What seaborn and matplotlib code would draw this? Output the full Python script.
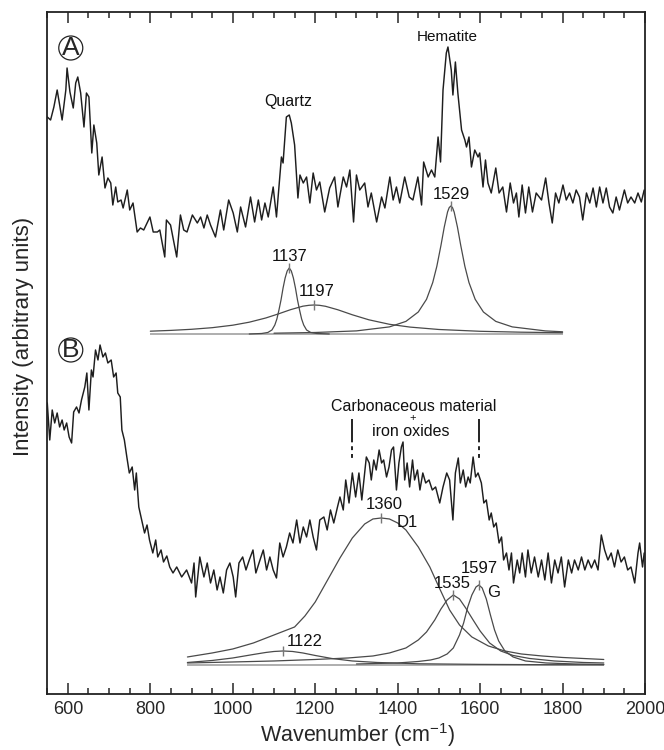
import numpy as np
import pandas as pd
import matplotlib.pyplot as plt
import seaborn as sns
from matplotlib.ticker import MultipleLocator

# spectrum A (hematite + quartz)
a_wn = [550, 558, 566, 574, 586, 595, 598, 605, 613, 619, 624, 631, 639, 645, 651, 658, 663, 670, 675, 683,
        690, 697, 704, 709, 716, 721, 729, 734, 744, 750, 758, 768, 776, 784, 799, 807, 817, 823, 835, 839,
        849, 864, 873, 881, 889, 902, 914, 922, 930, 938, 946, 958, 970, 978, 990, 1001, 1011, 1019, 1031, 1043,
        1053, 1062, 1070, 1078, 1086, 1098, 1106, 1118, 1122, 1130, 1137, 1142, 1150, 1158, 1163, 1171, 1179, 1187, 1195, 1203,
        1211, 1223, 1235, 1247, 1255, 1268, 1276, 1284, 1293, 1300, 1308, 1320, 1328, 1336, 1349, 1361, 1369, 1381, 1389, 1397,
        1405, 1417, 1428, 1437, 1449, 1458, 1463, 1474, 1482, 1490, 1498, 1504, 1510, 1518,
        1522, 1530, 1534, 1540, 1546, 1555, 1563, 1567, 1573, 1579, 1587, 1595, 1599, 1607, 1613, 1619, 1627, 1638, 1646, 1655,
        1664, 1673, 1681, 1688, 1694, 1702, 1710, 1718, 1727, 1736, 1749, 1759, 1767, 1775, 1783, 1791, 1801, 1809, 1817, 1825,
        1833, 1841, 1849, 1858, 1866, 1874, 1882, 1890, 1898, 1906, 1914, 1922, 1930, 1938, 1950, 1958, 1966, 1975, 1983, 1991, 1998]
a_int = [577, 574, 587, 604, 574, 604, 626, 602, 586, 611, 617, 601, 567, 601, 597, 541, 569, 551, 519, 537,
         506, 516, 511, 489, 507, 492, 494, 486, 504, 484, 491, 462, 466, 464, 477, 462, 462, 464, 437, 474,
         469, 437, 479, 464, 462, 479, 471, 477, 466, 479, 469, 457, 484, 464, 494, 481, 462, 487, 467, 497,
         472, 494, 474, 491, 477, 507, 477, 537, 531, 577, 579, 571, 549, 496, 519, 511, 517, 491, 521, 504,
         512, 482, 506, 517, 487, 517, 507, 524, 472, 519, 504, 511, 487, 501, 472, 497, 486, 517, 494, 507,
         491, 517, 497, 494, 517, 489, 532, 517, 524, 517, 557, 532, 604, 641,
         647, 624, 599, 632, 601, 564, 554, 547, 557, 527, 544, 537, 541, 507, 534, 511, 501, 526, 501, 507,
         482, 511, 491, 501, 477, 509, 481, 507, 482, 501, 494, 516, 491, 471, 501, 491, 509, 494, 501, 491,
         504, 497, 474, 501, 491, 506, 487, 507, 491, 506, 487, 481, 497, 484, 504, 491, 497, 491, 501, 492, 504]

# spectrum B (carbonaceous material + iron oxides)
b_wn = [550, 556, 562, 568, 574, 580, 586, 591, 597, 603, 609, 614, 621, 627, 633, 641, 646, 651, 657, 661,
        667, 673, 678, 685, 691, 697, 705, 711, 717, 721, 727, 731, 737, 743, 749, 756, 762, 766, 772, 779,
        786, 792, 798, 806, 813, 818, 826, 832, 840, 847, 855, 864, 876, 888, 900, 906, 910, 920, 930, 938,
        946, 954, 962, 969, 977, 985, 993, 1001, 1007, 1015, 1024, 1032, 1040, 1049, 1056, 1066, 1074, 1082, 1090, 1098,
        1106, 1114, 1122, 1130, 1138, 1146, 1155, 1163, 1171, 1179, 1187, 1195, 1203, 1211, 1221, 1229, 1237, 1245, 1254, 1260,
        1268, 1274, 1282, 1290, 1298, 1306, 1313, 1324, 1331, 1336, 1342, 1348, 1355, 1361, 1366, 1373, 1379, 1385, 1390, 1397,
        1403, 1409, 1413, 1417, 1423, 1429, 1436, 1441, 1448, 1454, 1461, 1468, 1476, 1484, 1492, 1502, 1510, 1519, 1526, 1534,
        1540, 1547, 1552, 1559, 1565, 1571, 1576, 1583, 1589, 1595, 1603, 1609, 1615, 1622, 1627, 1633, 1639, 1646, 1652, 1657,
        1664, 1670, 1676, 1681, 1690, 1696, 1702, 1710, 1716, 1724, 1732, 1741, 1749, 1757, 1765, 1773, 1781, 1789, 1797, 1805,
        1814, 1822, 1829, 1838, 1846, 1854, 1862, 1870, 1878, 1886, 1894, 1902, 1910, 1918, 1926, 1934, 1942, 1950, 1958, 1966,
        1975, 1983, 1987, 1994, 1998]
b_int = [291, 254, 284, 271, 281, 267, 274, 264, 271, 257, 251, 282, 287, 281, 294, 307, 321, 284, 324, 317,
         344, 334, 349, 337, 341, 331, 334, 317, 321, 301, 297, 264, 254, 237, 221, 227, 204, 221, 187, 174,
         161, 169, 154, 141, 154, 137, 144, 132, 138, 127, 121, 127, 117, 124, 111, 131, 97, 137, 117, 131,
         111, 124, 104, 117, 101, 124, 131, 117, 97, 131, 137, 124, 134, 144, 121, 134, 144, 124, 137, 124,
         116, 151, 137, 147, 161, 151, 174, 151, 167, 157, 174, 157, 144, 174, 177, 164, 184, 171, 187, 197,
         184, 214, 191, 221, 197, 221, 194, 237, 231, 214, 234, 224, 244, 231, 234, 217, 227, 244, 247, 204,
         231, 247, 252, 214, 231, 207, 234, 214, 224, 204, 221, 211, 214, 204, 207, 191, 207, 221, 214, 174,
         221, 236, 211, 224, 207, 217, 211, 237, 217, 221, 211, 191, 194, 174, 181, 167, 171, 151, 157, 134,
         141, 124, 141, 111, 134, 121, 141, 117, 144, 121, 137, 117, 134, 114, 141, 111, 134, 121, 137, 107,
         134, 121, 134, 124, 137, 124, 134, 126, 134, 124, 159, 144, 134, 141, 127, 144, 132, 137, 124, 127,
         111, 141, 151, 127, 141]

# fitted components, heights above each panel's fit baseline
a_base = 360
a_fit_range = [800, 1800]
a1137_wn = [1040, 1070, 1085, 1095, 1102, 1107, 1112, 1117, 1122, 1127, 1132, 1137, 1142, 1147, 1152, 1157, 1162, 1167, 1172, 1179, 1189, 1204, 1234]
a1137_h = [0, 0.5, 1.5, 4, 9, 15, 24, 34, 46, 56, 63, 66, 63, 56, 46, 34, 24, 15, 9, 4, 1.5, 0.5, 0]
a1197_wn = [800, 850, 900, 950, 1000, 1040, 1080, 1110, 1140, 1170, 1185, 1197, 1210, 1225, 1255, 1290, 1330, 1380, 1430, 1500, 1600, 1700, 1800]
a1197_h = [2.8, 3.6, 4.7, 6.3, 8.8, 11.8, 16.0, 20.0, 24.3, 27.8, 28.7, 29, 28.7, 27.7, 24.2, 19.2, 14.2, 9.7, 6.9, 4.5, 2.7, 1.8, 1.3]
a1529_wn = [1100, 1200, 1300, 1380, 1420, 1450, 1470, 1485, 1495, 1505, 1513, 1521, 1525, 1529, 1533, 1537, 1545, 1553, 1563, 1573, 1588, 1608, 1638, 1678, 1758, 1800]
a1529_h = [0.8, 1.5, 3.1, 7.1, 12.6, 22.0, 34.7, 51.4, 67.7, 88.6, 106.9, 122, 126.4, 128, 126.4, 122, 106.9, 88.6, 67.7, 51.4, 34.7, 22.0, 12.6, 7.1, 3.1, 2.2]

b_base = 29
b_fit_range = [890, 1900]
b1122_wn = [890, 950, 1000, 1050, 1080, 1100, 1122, 1145, 1170, 1200, 1240, 1290, 1350, 1450, 1600, 1750, 1900]
b1122_h = [2.5, 4.5, 7, 10.5, 12.5, 13.5, 14, 13.5, 12, 9.5, 6.5, 4, 2.5, 1.2, 0.6, 0.3, 0.2]
b1360_wn = [890, 950, 1000, 1050, 1100, 1150, 1175, 1200, 1230, 1260, 1290, 1320, 1340, 1360, 1380, 1400, 1420, 1450, 1478, 1500, 1526, 1550, 1580, 1620, 1660, 1700, 1750, 1800, 1850, 1900]
b1360_h = [8, 12, 16, 22, 30, 38, 49, 63, 85, 107, 127, 141, 146, 147, 146, 142, 135, 118, 98, 78, 55, 40, 28, 19, 14, 11, 9, 7.5, 6.5, 5.5]
b1535_wn = [890, 1000, 1100, 1200, 1280, 1340, 1380, 1420, 1450, 1470, 1490, 1505, 1520, 1535, 1550, 1565, 1583, 1600, 1623, 1650, 1680, 1720, 1780, 1850, 1900]
b1535_h = [2, 3, 4, 5.5, 7, 9, 12, 17, 25, 33, 45, 56, 65, 70, 66, 57, 45, 34, 22, 14, 9.5, 6.5, 4, 2.5, 2]
b1597_wn = [1300, 1400, 1450, 1480, 1500, 1520, 1535, 1550, 1560, 1570, 1580, 1590, 1597, 1605, 1615, 1625, 1635, 1645, 1660, 1680, 1710, 1760, 1830, 1900]
b1597_h = [1, 2, 3.5, 5, 7, 11, 17, 30, 42, 58, 70, 78, 80, 77, 66, 50, 35, 24, 14, 8, 4, 2, 1, 0.5]

a_peaks = [1137, 1197, 1529]
a_peak_h = [66, 29, 128]
b_peaks = [1122, 1360, 1535, 1597]
b_peak_h = [14, 147, 70, 80]

sns.set_style("ticks")
plt.rcParams['font.family'] = ['Liberation Sans', 'DejaVu Sans']
plt.rcParams['mathtext.fontset'] = 'custom'
plt.rcParams['mathtext.rm'] = 'Liberation Sans'

fig = plt.figure(figsize=(6.64, 7.5), dpi=100)
ax = fig.add_axes([0.0712, 0.0747, 0.9002, 0.9093])

spec_col = "#1e1e1e"
fit_col = "#4a4a4a"
base_col = "#a8a8a8"

# baselines of the fits
ax.hlines([a_base, b_base], [a_fit_range[0], b_fit_range[0]], [a_fit_range[1], b_fit_range[1]],
          color=base_col, lw=1.3, zorder=1)

fits = [(a1137_wn, a1137_h, a_base), (a1197_wn, a1197_h, a_base), (a1529_wn, a1529_h, a_base),
        (b1122_wn, b1122_h, b_base), (b1360_wn, b1360_h, b_base), (b1535_wn, b1535_h, b_base),
        (b1597_wn, b1597_h, b_base)]
for wn, h, base in fits:
    df = pd.DataFrame({"wn": wn, "y": np.array(h) + base})
    sns.lineplot(data=df, x="wn", y="y", ax=ax, color=fit_col, lw=0.9, estimator=None, sort=False, zorder=2)

# peak position marks
ax.vlines(a_peaks, np.array(a_peak_h) + a_base - 5, np.array(a_peak_h) + a_base + 5, color="#777777", lw=1.0)
ax.vlines(b_peaks, np.array(b_peak_h) + b_base - 5, np.array(b_peak_h) + b_base + 5, color="#777777", lw=1.0)

sns.lineplot(x=a_wn, y=a_int, ax=ax, color=spec_col, lw=1.05, estimator=None, sort=False, zorder=3)
sns.lineplot(x=b_wn, y=b_int, ax=ax, color=spec_col, lw=1.05, estimator=None, sort=False, zorder=3)

# labels
lab = dict(ha="center", va="center", color="#111111")
ax.text(1134, 592, "Quartz", fontsize=11.5, **lab)
ax.text(1520, 657, "Hematite", fontsize=11, **lab)
ax.text(1137, 437, "1137", fontsize=12, **lab)
ax.text(1203, 402, "1197", fontsize=12, **lab)
ax.text(1531, 499, "1529", fontsize=12, **lab)

ax.text(1440, 287, "Carbonaceous material", fontsize=11.5, **lab)
ax.text(1437, 276, "+", fontsize=8, **lab)
ax.text(1432, 262, "iron oxides", fontsize=11.5, **lab)
ax.text(1368, 189, "1360", fontsize=12, **lab)
ax.text(1423, 171, "D1", fontsize=12, **lab)
ax.text(1532, 110, "1535", fontsize=12, **lab)
ax.text(1597, 125, "1597", fontsize=12, **lab)
ax.text(1633, 101, "G", fontsize=12, **lab)
ax.text(1174, 52, "1122", fontsize=12, **lab)

for wn in [1288, 1597]:
    ax.plot([wn, wn], [275, 234], color="#222222", lw=1.4, dashes=(12, 2, 2, 2, 2, 2, 2, 2))

circ = dict(boxstyle="circle,pad=0.0", fc="white", ec="#222222", lw=0.9)
ax.text(607, 646, "A", fontsize=19, ha="center", va="center", bbox=circ)
ax.text(607, 344, "B", fontsize=19, ha="center", va="center", bbox=circ)

ax.set_xlim(550, 2000)
ax.set_ylim(0, 682)
ax.xaxis.set_major_locator(MultipleLocator(200))
ax.xaxis.set_minor_locator(MultipleLocator(50))
ax.tick_params(axis="x", which="both", direction="in", top=True, bottom=True, width=1.1, labelsize=13, pad=5)
ax.tick_params(axis="x", which="major", length=8)
ax.tick_params(axis="x", which="minor", length=4.5)
ax.set_yticks([])
for s in ax.spines.values():
    s.set_linewidth(1.3)
    s.set_color("#222222")

ax.set_xlabel("Wavenumber (cm$^{-1}$)", fontsize=15.5)
ax.set_ylabel("Intensity (arbitrary units)", fontsize=16)
ax.xaxis.set_label_coords(0.52, -0.04)
ax.yaxis.set_label_coords(-0.022, 0.525)

fig.savefig("out.png", dpi=100)
